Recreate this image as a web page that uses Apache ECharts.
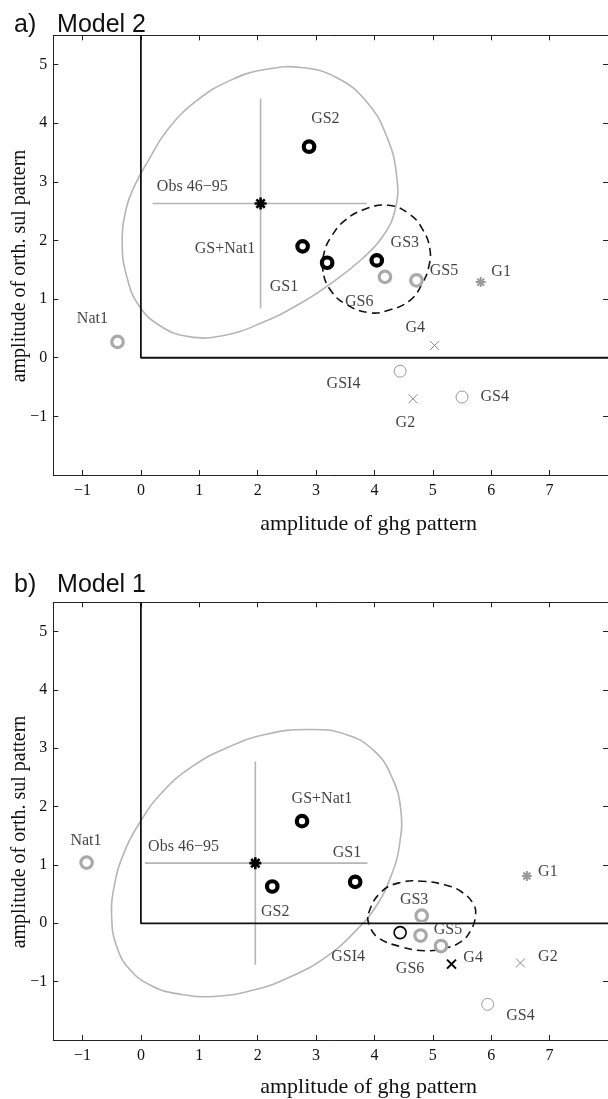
<!DOCTYPE html>
<html>
<head>
<meta charset="utf-8">
<script src="https://cdn.jsdelivr.net/npm/echarts@6/dist/echarts.min.js"></script>
<style>
  html, body { margin: 0; padding: 0; background: #fff; }
  #chart { width: 608px; height: 1099px; }
</style>
</head>
<body>
<div id="chart"></div>
<script>
// ---- data ----
var xTicks = [-1, 0, 1, 2, 3, 4, 5, 6, 7, 8];
var xLabels = [-1, 0, 1, 2, 3, 4, 5, 6, 7];
var yTicks = [-1, 0, 1, 2, 3, 4, 5];

// panel a) Model 2
var aBlackRings = [[2.88, 3.60], [2.77, 1.90], [3.19, 1.62], [4.04, 1.66]];   // GS2, GS+Nat1, GS1, GS3
var aGrayRings = [[4.18, 1.38], [4.72, 1.32], [-0.40, 0.27]];                 // GS6, GS5, Nat1
var aThinGray = [[4.44, -0.23], [5.50, -0.67]];                               // GSI4, GS4
var aGrayCross = [[5.03, 0.21], [4.66, -0.70]];                               // G4, G2
var aBoldCross = [[5.82, 1.29]];                                              // G1
var aObs = [[2.05, 2.63]];
var aErrX = [0.20, 3.87];
var aErrY = [0.84, 4.42];
// closed outlines (points along the curve)
var aContour = [[-0.32, 1.95], [-0.25, 2.55], [-0.10, 2.95], [0.12, 3.35], [0.45, 3.88], [0.95, 4.38],
  [1.55, 4.74], [2.15, 4.92], [2.75, 4.95], [3.35, 4.78], [3.88, 4.35], [4.22, 3.75], [4.38, 3.10],
  [4.36, 2.55], [4.15, 2.08], [3.78, 1.68], [3.30, 1.30], [2.72, 0.92], [2.08, 0.60], [1.42, 0.38],
  [0.82, 0.36], [0.32, 0.55], [-0.04, 0.90], [-0.24, 1.38]];
var aDashed = [[3.12, 1.47], [3.14, 1.80], [3.27, 2.08], [3.48, 2.33], [3.80, 2.52], [4.24, 2.60],
  [4.60, 2.45], [4.83, 2.18], [4.95, 1.85], [4.93, 1.55], [4.82, 1.27], [4.61, 0.98], [4.24, 0.81],
  [3.90, 0.77], [3.50, 0.92], [3.25, 1.15]];
var aLabelNames = ['GS2', 'Obs 46\u221295', 'GS+Nat1', 'GS1', 'GS3', 'GS5', 'G1', 'GS6', 'G4', 'GS4', 'GSI4', 'G2', 'Nat1'];
var aLabelPos = [[3.16, 4.08], [0.88, 2.91], [1.44, 1.86], [2.45, 1.21], [4.52, 1.96], [5.19, 1.49],
  [6.17, 1.47], [3.74, 0.96], [4.70, 0.51], [6.06, -0.67], [3.47, -0.45], [4.53, -1.11], [-0.83, 0.67]];

// panel b) Model 1
var bBlackRings = [[2.76, 1.75], [2.25, 0.63], [3.67, 0.71]];                 // GS+Nat1, GS2, GS1
var bThinBlack = [[4.44, -0.16]];                                             // GSI4
var bGrayRings = [[4.81, 0.13], [4.79, -0.21], [5.14, -0.39], [-0.93, 1.04]]; // GS3, GS6, GS5, Nat1
var bThinGray = [[5.94, -1.39]];                                              // GS4
var bBlackCross = [[5.32, -0.70]];                                            // G4
var bGrayCross = [[6.50, -0.68]];                                             // G2
var bBoldCross = [[6.61, 0.81]];                                              // G1
var bObs = [[1.96, 1.03]];
var bErrX = [0.07, 3.88];
var bErrY = [-0.71, 2.77];
var bContour = [[-0.50, 0.10], [-0.46, 0.62], [-0.30, 1.18], [-0.01, 1.74], [0.37, 2.25], [0.90, 2.70],
  [1.50, 3.02], [2.15, 3.24], [2.85, 3.32], [3.50, 3.24], [4.00, 2.95], [4.30, 2.50], [4.45, 1.95],
  [4.43, 1.35], [4.28, 0.80], [4.02, 0.28], [3.65, -0.16], [3.18, -0.57], [2.60, -0.90], [1.95, -1.14],
  [1.30, -1.25], [0.70, -1.22], [0.18, -1.07], [-0.20, -0.78], [-0.42, -0.38]];
var bDashed = [[3.90, 0.17], [4.12, 0.54], [4.45, 0.70], [4.81, 0.72], [5.20, 0.66], [5.49, 0.54],
  [5.70, 0.32], [5.73, 0.12], [5.65, -0.12], [5.49, -0.31], [5.20, -0.43], [4.86, -0.47],
  [4.45, -0.40], [4.07, -0.25], [3.92, -0.05]];
var bLabelNames = ['GS+Nat1', 'GS1', 'GS2', 'Obs 46\u221295', 'Nat1', 'GSI4', 'GS3', 'GS5', 'GS6', 'G4', 'G1', 'G2', 'GS4'];
var bLabelPos = [[3.10, 2.14], [3.53, 1.20], [2.30, 0.20], [0.73, 1.31], [-0.94, 1.41], [3.55, -0.57],
  [4.68, 0.41], [5.26, -0.11], [4.61, -0.78], [5.69, -0.59], [6.97, 0.89], [6.97, -0.58], [6.50, -1.59]];

// box lines at x=0 / y=0
var frame = [[0, 5.5], [0, 0], [8, 0]];

// ---- chart ----
var myChart = echarts.init(document.getElementById('chart'));

var SERIF = 'Liberation Serif, Times New Roman, serif';
var SANS = 'Liberation Sans, Arial, sans-serif';
var GRAY = '#a9a9a9';
var crossPath = 'path://M0,0L10,10M10,0L0,10';
var starPath = 'path://M5,0L5,10M0,5L10,5M1.5,1.5L8.5,8.5M8.5,1.5L1.5,8.5';

function fmt(v) { return v < 0 ? '\u2212' + Math.abs(v) : String(v); }

function xAx(g, pos, name, gap) {
  return {
    gridIndex: g, type: 'value', min: -1.5, max: 8, position: pos,
    axisLine: { show: true, onZero: false, lineStyle: { color: '#222', width: 1 } },
    axisTick: { show: true, inside: true, length: 5, customValues: xTicks, lineStyle: { color: '#222' } },
    axisLabel: { show: pos === 'bottom', customValues: xLabels, formatter: fmt, fontFamily: SERIF, fontSize: 16, color: '#111', margin: 8 },
    splitLine: { show: false },
    name: name, nameLocation: 'middle', nameGap: gap,
    nameTextStyle: { fontFamily: SERIF, fontSize: 22, color: '#111', padding: [0, 0, 0, 76] }
  };
}
function yAx(g, pos) {
  return {
    gridIndex: g, type: 'value', min: -2, max: 5.5, position: pos,
    axisLine: { show: true, onZero: false, lineStyle: { color: '#222', width: 1 } },
    axisTick: { show: true, inside: true, length: 5, customValues: yTicks, lineStyle: { color: '#222' } },
    axisLabel: { show: pos === 'left', customValues: yTicks, formatter: fmt, fontFamily: SERIF, fontSize: 16, color: '#111', margin: 6 },
    splitLine: { show: false }
  };
}

function line(ax, data, color, width, z) {
  return {
    type: 'line', xAxisIndex: ax, yAxisIndex: ax, data: data, showSymbol: false, symbol: 'none',
    animation: false, silent: true, z: z || 2,
    lineStyle: { color: color, width: width }
  };
}
// closed smooth outline through the read points, placed with the axes' own coord()
function outline(ax, pts, color, width, dash, z) {
  return {
    type: 'custom', xAxisIndex: ax, yAxisIndex: ax, data: pts, silent: true, animation: false, z: z,
    renderItem: function (params, api) {
      if (params.dataIndex !== 0) return null;
      var p = pts.map(function (d) { return api.coord(d); });
      return {
        type: 'polygon',
        shape: { points: p, smooth: 0.45 },
        style: { fill: 'none', stroke: color, lineWidth: width, lineDash: dash || null }
      };
    }
  };
}
function marks(ax, data, symbol, size, fill, stroke, bw) {
  return {
    type: 'scatter', xAxisIndex: ax, yAxisIndex: ax, data: data, symbol: symbol, symbolSize: size,
    animation: false, z: 5,
    itemStyle: { color: fill, borderColor: stroke, borderWidth: bw, opacity: 1 }
  };
}
function labels(ax, names, pos) {
  return {
    type: 'scatter', xAxisIndex: ax, yAxisIndex: ax, symbolSize: 0, animation: false, z: 6,
    data: names.map(function (n, i) { return { name: n, value: pos[i] }; }),
    label: { show: true, position: 'inside', formatter: '{b}', fontFamily: SERIF, fontSize: 16, color: '#111' }
  };
}
function panel(ax, d) {
  return [
    line(ax, frame, '#111', 1.8, 3),
    outline(ax, d.contour, '#b5b5b5', 1.6, null, 2),
    outline(ax, d.dashed, '#111', 1.6, [8, 5], 3),
    line(ax, [[d.errX[0], d.obs[0][1]], [d.errX[1], d.obs[0][1]]], '#b5b5b5', 1.6, 2),
    line(ax, [[d.obs[0][0], d.errY[0]], [d.obs[0][0], d.errY[1]]], '#b5b5b5', 1.6, 2),
    marks(ax, d.blackRings, 'circle', 10.5, '#fff', '#000', 4.2),
    marks(ax, d.grayRings, 'circle', 11.5, '#fff', GRAY, 3.2),
    marks(ax, d.thinGray, 'circle', 12, '#fff', '#9a9a9a', 1),
    marks(ax, d.thinBlack || [], 'circle', 12, '#fff', '#000', 1.6),
    marks(ax, d.grayCross, crossPath, 9, 'rgba(0,0,0,0)', '#8a8a8a', 1),
    marks(ax, d.blackCross || [], crossPath, 9, 'rgba(0,0,0,0)', '#000', 2),
    marks(ax, d.boldCross, starPath, 10, 'rgba(0,0,0,0)', '#9a9a9a', 2),
    marks(ax, d.obs, starPath, 12, 'rgba(0,0,0,0)', '#000', 2.6),
    labels(ax, d.labelNames, d.labelPos)
  ];
}

var option = {
  backgroundColor: '#fff',
  animation: false,
  title: [
    { text: 'a)   Model 2', left: 9, top: 8, textStyle: { fontFamily: SANS, fontSize: 25, fontWeight: 'normal', color: '#111' } },
    { text: 'b)   Model 1', left: 9, top: 568, textStyle: { fontFamily: SANS, fontSize: 25, fontWeight: 'normal', color: '#111' } }
  ],
  grid: [
    { left: 53.3, top: 35.3, width: 557.2, height: 439.7, containLabel: false },
    { left: 53.3, top: 602.3, width: 557.2, height: 438, containLabel: false }
  ],
  xAxis: [
    xAx(0, 'bottom', 'amplitude of ghg pattern', 38), xAx(0, 'top', '', 0),
    xAx(1, 'bottom', 'amplitude of ghg pattern', 36), xAx(1, 'top', '', 0)
  ],
  yAxis: [yAx(0, 'left'), yAx(0, 'right'), yAx(1, 'left'), yAx(1, 'right')],
  graphic: [
    { type: 'text', x: 20, y: 266, rotation: Math.PI / 2,
      style: { text: 'amplitude of orth. sul pattern', font: '20px ' + SERIF, fill: '#111', textAlign: 'center', textVerticalAlign: 'middle' } },
    { type: 'text', x: 20, y: 832, rotation: Math.PI / 2,
      style: { text: 'amplitude of orth. sul pattern', font: '20px ' + SERIF, fill: '#111', textAlign: 'center', textVerticalAlign: 'middle' } }
  ],
  series: [].concat(
    panel(0, {
      blackRings: aBlackRings, grayRings: aGrayRings, thinGray: aThinGray, grayCross: aGrayCross,
      boldCross: aBoldCross, obs: aObs, errX: aErrX, errY: aErrY, contour: aContour, dashed: aDashed,
      labelNames: aLabelNames, labelPos: aLabelPos
    }),
    panel(2, {
      blackRings: bBlackRings, grayRings: bGrayRings, thinGray: bThinGray, thinBlack: bThinBlack,
      grayCross: bGrayCross, blackCross: bBlackCross, boldCross: bBoldCross, obs: bObs,
      errX: bErrX, errY: bErrY, contour: bContour, dashed: bDashed,
      labelNames: bLabelNames, labelPos: bLabelPos
    })
  )
};

myChart.setOption(option);
</script>
</body>
</html>
